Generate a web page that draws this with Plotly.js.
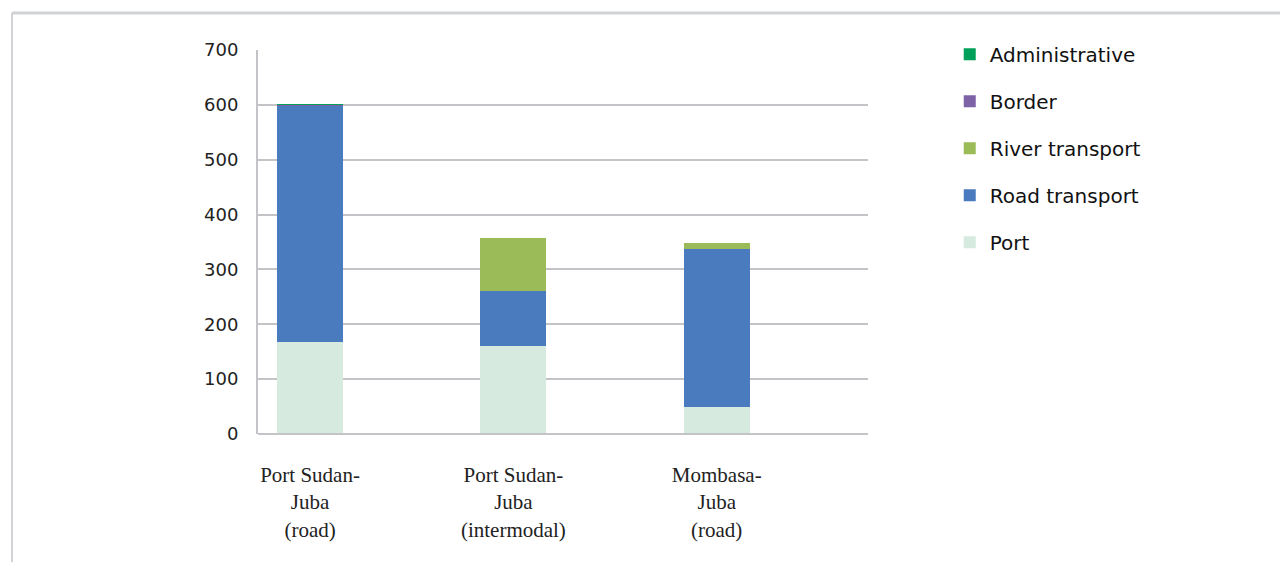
<!DOCTYPE html>
<html><head><meta charset="utf-8">
<script src="https://cdn.plot.ly/plotly-3.0.1.min.js"></script>
<style>html,body{margin:0;padding:0;background:#fff}#chart{width:1280px;height:562px}</style>
</head><body><div id="chart"></div>
<script>
const categories = ["Port Sudan-<br>Juba<br>(road)", "Port Sudan-<br>Juba<br>(intermodal)", "Mombasa-<br>Juba<br>(road)"];
const port = [168, 160, 49];
const road = [430, 100, 288];
const river = [0, 97, 12];
const border = [1, 0, 0];
const administrative = [2, 0, 0];
const yTicks = [0, 100, 200, 300, 400, 500, 600, 700];

const series = [
  {name: "Port", y: port, color: "#d6eadf"},
  {name: "Road transport", y: road, color: "#4a7bbf"},
  {name: "River transport", y: river, color: "#9bbb59"},
  {name: "Border", y: border, color: "#7d62a8"},
  {name: "Administrative", y: administrative, color: "#00a05a"}
];
const idx = [0, 1, 2];
const traces = series.map((s, i) => ({
  type: "bar", name: s.name, x: idx, y: s.y,
  marker: {color: s.color, line: {width: 0}},
  legendgroup: "g" + i, legendrank: series.length - i,
  hoverinfo: "y+name"
}));

const layout = {
  width: 1280, height: 562,
  margin: {l: 258, r: 412, t: 50, b: 128},
  barmode: "stack", bargap: 0.675,
  paper_bgcolor: "#fff", plot_bgcolor: "#fff",
  font: {family: "DejaVu Sans, sans-serif", size: 18, color: "#222"},
  showlegend: true,
  legend: {
    x: 1.134, xanchor: "left", y: 1.04, yanchor: "top",
    traceorder: "grouped", tracegroupgap: 18,
    font: {family: "DejaVu Sans, sans-serif", size: 20, color: "#111"}, itemwidth: 30
  },
  xaxis: {
    range: [-0.256, 2.744], tickvals: idx, ticktext: categories,
    showgrid: false, zeroline: false, showline: false, ticks: "",
    tickfont: {family: "Liberation Serif, serif", size: 21, color: "#222"},
    ticklabelstandoff: 26, fixedrange: true
  },
  yaxis: {
    range: [0, 700], tickvals: yTicks, ticktext: yTicks.map(String),
    showgrid: true, gridcolor: "#c4c4c8", gridwidth: 2,
    zeroline: false, showline: true, linecolor: "#c4c4c8", linewidth: 2,
    ticks: "", ticklabelstandoff: 14,
    tickfont: {family: "DejaVu Sans, sans-serif", size: 18, color: "#222"}, fixedrange: true
  },
  shapes: [
    {type: "line", xref: "paper", yref: "paper", x0: 0, x1: 1, y0: 0, y1: 0, line: {color: "#c4c4c8", width: 2}},
    {type: "line", xref: "paper", yref: "paper", x0: -0.4033, x1: 1.68, y0: 1.0963, y1: 1.0963, line: {color: "#d0d2d6", width: 3}},
    {type: "line", xref: "paper", yref: "paper", x0: -0.4033, x1: -0.4033, y0: 1.0963, y1: -0.34, line: {color: "#d0d2d6", width: 2}}
  ]
};
Plotly.newPlot("chart", traces, layout, {displayModeBar: false, staticPlot: true});
</script></body></html>
